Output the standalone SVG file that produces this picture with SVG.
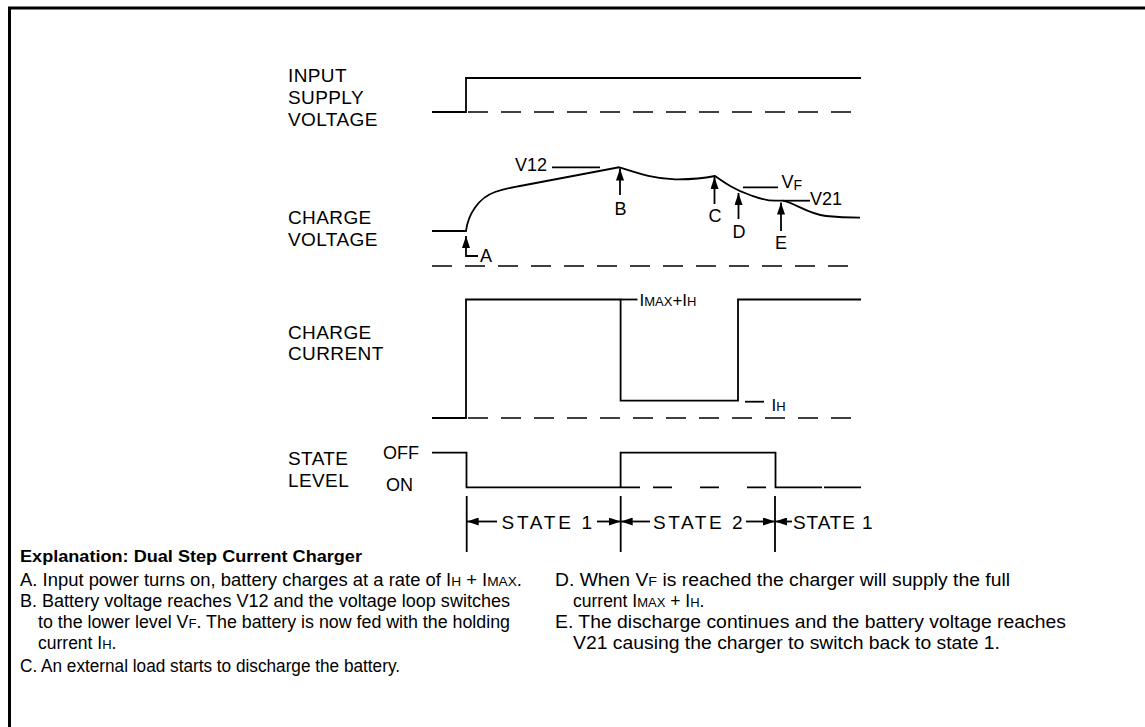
<svg xmlns="http://www.w3.org/2000/svg" width="1145" height="727" viewBox="0 0 1145 727">
<defs>
<style>
.ln{fill:none;stroke:#000;stroke-width:1.8}
.dash{fill:none;stroke:#000;stroke-width:1.5;stroke-dasharray:20 13}
.lbl{font-family:"Liberation Sans",Arial,sans-serif;font-size:19px;fill:#000;letter-spacing:0.4px}
.sm{font-family:"Liberation Sans",Arial,sans-serif;font-size:18px;fill:#000}
.body{font-family:"Liberation Sans",Arial,sans-serif;font-size:17.5px;fill:#000}
.ttl{font-family:"Liberation Sans",Arial,sans-serif;font-size:17px;font-weight:bold;fill:#000}
</style>
<marker id="ah" viewBox="0 0 12 8" refX="12" refY="4" markerWidth="12" markerHeight="8" markerUnits="userSpaceOnUse" orient="auto">
<path d="M0,0 L12,4 L0,8 Z" fill="#000"/>
</marker>
</defs>
<rect width="1145" height="727" fill="#fff"/>
<g id="border"><path d="M9.5,727 V8 H1145" fill="none" stroke="#000" stroke-width="3"/></g>

<g id="input-supply">
<text class="lbl" x="288" y="81.5">INPUT</text>
<text class="lbl" x="288" y="103.5">SUPPLY</text>
<text class="lbl" x="288" y="125.5">VOLTAGE</text>
<path class="ln" d="M432,112 H466 V78 H861"/>
<path class="dash" d="M468,112 H861"/>
</g>

<g id="charge-voltage">
<text class="lbl" x="288" y="223.5">CHARGE</text>
<text class="lbl" x="288" y="245.7">VOLTAGE</text>
<path class="ln" d="M432,231 H466 C468,215 478,198 495,192 C505,188.5 512,187.5 520,186 L619,167.3 C640,174 655,179 675,179.3 C690,179.5 705,178 715,176 C725,183 735,190 750,195 C760,198.5 765,200.7 775,200.7 L783,200.7 C795,203 808,214 826,216 C840,217.5 850,217.7 860,217.7"/>
<path class="dash" d="M432,266 H861"/>
<path class="ln" d="M552,167.3 H600"/>
<text class="sm" x="515" y="171">V12</text>
<path class="ln" d="M743,187.3 H778"/>
<text class="sm" x="781.5" y="187.5">V<tspan font-size="14" dy="2.5">F</tspan></text>
<path class="ln" d="M783,200.7 H810"/>
<text class="sm" x="810" y="205">V21</text>
</g>

<g id="markers">
<path class="ln" d="M478,256 H466 V236" marker-end="url(#ah)"/>
<text class="sm" x="480" y="262">A</text>
<path class="ln" d="M620,195 V168.5" marker-end="url(#ah)"/>
<text class="sm" x="620.5" y="215" text-anchor="middle">B</text>
<path class="ln" d="M714.5,204 V177" marker-end="url(#ah)"/>
<text class="sm" x="715" y="222" text-anchor="middle">C</text>
<path class="ln" d="M738.5,219 V193" marker-end="url(#ah)"/>
<text class="sm" x="739" y="237.5" text-anchor="middle">D</text>
<path class="ln" d="M781,231 V202.5" marker-end="url(#ah)"/>
<text class="sm" x="781" y="248.5" text-anchor="middle">E</text>
</g>

<g id="charge-current">
<text class="lbl" x="288" y="339">CHARGE</text>
<text class="lbl" x="288" y="360">CURRENT</text>
<path class="ln" d="M432,418 H466 V299.5 H620.6 V400.7 H738 V299.5 H861"/>
<path class="dash" d="M468,418 H861"/>
<path class="ln" d="M620.6,299.5 H637.5"/>
<text class="sm" x="639.5" y="306" style="font-size:17px">I<tspan font-size="13">MAX</tspan>+I<tspan font-size="13">H</tspan></text>
<path class="ln" d="M745,401.7 H764"/>
<text class="sm" x="771.5" y="410.7" style="font-size:17px">I<tspan font-size="13">H</tspan></text>
</g>

<g id="state-level">
<text class="lbl" x="288" y="465">STATE</text>
<text class="lbl" x="288" y="487.3">LEVEL</text>
<text class="sm" x="383" y="458.5">OFF</text>
<text class="sm" x="386" y="491">ON</text>
<path class="ln" d="M432,452.7 H466.5 V487.3 H640"/>
<path class="ln" d="M620.6,487.3 V452.7 H775.5 V487.3 H822 M824,487.3 H861"/>
<path class="ln" d="M640,487.3 H775.5" stroke-dasharray="0 13 19 15"/>
</g>

<g id="state-arrows">
<path class="ln" d="M466.7,496 V552 M620.7,496 V552 M775,496 V552"/>
<path class="ln" d="M497,521.5 H466.7" marker-end="url(#ah)"/>
<path class="ln" d="M597,521.5 H620.7" marker-end="url(#ah)"/>
<path class="ln" d="M650,521.5 H620.7" marker-end="url(#ah)"/>
<path class="ln" d="M746,521.5 H775" marker-end="url(#ah)"/>
<path class="ln" d="M792,521.5 H775" marker-end="url(#ah)"/>
<text class="lbl" x="501.5" y="528.5" textLength="91">STATE 1</text>
<text class="lbl" x="653" y="528.5" textLength="90">STATE 2</text>
<text class="lbl" x="793" y="528.5" textLength="80">STATE 1</text>
</g>

<g id="explanation">
<text class="ttl" x="20" y="562" textLength="342" lengthAdjust="spacingAndGlyphs">Explanation: Dual Step Current Charger</text>
<text class="body" x="20" y="586" textLength="502" lengthAdjust="spacingAndGlyphs">A. Input power turns on, battery charges at a rate of I<tspan font-size="13">H</tspan> + I<tspan font-size="13">MAX</tspan>.</text>
<text class="body" x="20" y="607" textLength="490" lengthAdjust="spacingAndGlyphs">B. Battery voltage reaches V12 and the voltage loop switches</text>
<text class="body" x="38" y="628" textLength="472" lengthAdjust="spacingAndGlyphs">to the lower level V<tspan font-size="13">F</tspan>. The battery is now fed with the holding</text>
<text class="body" x="38" y="649">current I<tspan font-size="13">H</tspan>.</text>
<text class="body" x="20" y="672" textLength="380" lengthAdjust="spacingAndGlyphs">C. An external load starts to discharge the battery.</text>
<text class="body" x="555" y="586" textLength="455" lengthAdjust="spacingAndGlyphs">D. When V<tspan font-size="13">F</tspan> is reached the charger will supply the full</text>
<text class="body" x="573" y="607">current I<tspan font-size="13">MAX</tspan> + I<tspan font-size="13">H</tspan>.</text>
<text class="body" x="555" y="628" textLength="511" lengthAdjust="spacingAndGlyphs">E. The discharge continues and the battery voltage reaches</text>
<text class="body" x="573" y="649" textLength="427" lengthAdjust="spacingAndGlyphs">V21 causing the charger to switch back to state 1.</text>
</g>
</svg>
